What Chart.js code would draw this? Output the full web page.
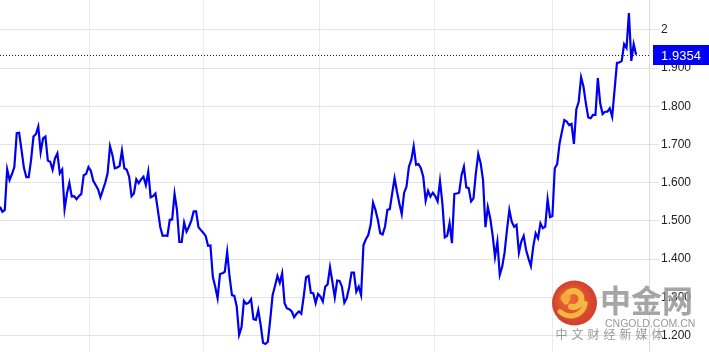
<!DOCTYPE html>
<html>
<head>
<meta charset="utf-8">
<title>1.9354</title>
<script src="https://cdn.jsdelivr.net/npm/chart.js@4.4.1/dist/chart.umd.min.js"></script>
<style>
  html, body { margin: 0; padding: 0; background: #fff; }
  #wrap { width: 709px; height: 352px; }
</style>
</head>
<body>
<div id="wrap"><canvas id="chart" width="709" height="352"></canvas></div>
<script>
// price series, one value per bar (oldest first)
const seriesValues = [
  1.537, 1.524, 1.529, 1.635, 1.607, 1.623, 1.641, 1.730, 1.731, 1.686,
  1.639, 1.615, 1.615, 1.660, 1.721, 1.727, 1.747, 1.680, 1.716, 1.721,
  1.658, 1.655, 1.634, 1.664, 1.677, 1.625, 1.635, 1.531, 1.572, 1.600,
  1.564, 1.565, 1.557, 1.565, 1.571, 1.620, 1.623, 1.641, 1.631, 1.605,
  1.594, 1.583, 1.562, 1.581, 1.600, 1.625, 1.696, 1.673, 1.638, 1.640,
  1.644, 1.684, 1.638, 1.634,
  1.616, 1.565, 1.572, 1.609, 1.599, 1.609, 1.616, 1.594, 1.629, 1.562,
  1.565, 1.572, 1.529, 1.485, 1.461, 1.462, 1.461, 1.503, 1.504, 1.571,
  1.529, 1.445, 1.445, 1.496, 1.472, 1.485, 1.501, 1.525, 1.525, 1.484,
  1.476, 1.469, 1.461, 1.435, 1.436, 1.354, 1.328, 1.298, 1.361, 1.363,
  1.367, 1.419, 1.354, 1.306, 1.304, 1.276, 1.202, 1.222, 1.291, 1.283,
  1.286, 1.295,
  1.243, 1.241, 1.267, 1.228, 1.181, 1.178, 1.184, 1.241, 1.306, 1.330,
  1.356, 1.338, 1.363, 1.285, 1.271, 1.269, 1.263, 1.248, 1.257, 1.263,
  1.257, 1.302, 1.353, 1.356, 1.312, 1.311, 1.285, 1.309, 1.302, 1.289,
  1.328, 1.334, 1.379, 1.341, 1.300, 1.344, 1.343, 1.328, 1.286, 1.298,
  1.326, 1.365, 1.365, 1.315, 1.328, 1.306, 1.437, 1.452, 1.463, 1.490,
  1.548, 1.529, 1.503, 1.468, 1.465, 1.485, 1.529, 1.531, 1.572, 1.612,
  1.577, 1.546, 1.518, 1.574, 1.590, 1.642, 1.660, 1.696, 1.647, 1.649,
  1.638, 1.616, 1.553, 1.579, 1.564, 1.574, 1.565, 1.551, 1.605, 1.546,
  1.457, 1.461, 1.494, 1.442, 1.571, 1.572, 1.574, 1.620, 1.642, 1.588,
  1.586, 1.551, 1.559, 1.625, 1.675, 1.651, 1.607, 1.484, 1.536, 1.507,
  1.463, 1.406, 1.446, 1.359,
  1.380, 1.417, 1.476, 1.529, 1.498, 1.485, 1.490, 1.417, 1.446, 1.461,
  1.424, 1.402, 1.382, 1.433, 1.468, 1.455, 1.494, 1.481, 1.485, 1.557,
  1.510, 1.513, 1.638, 1.649, 1.703, 1.734, 1.764, 1.760, 1.751, 1.754,
  1.702, 1.792, 1.812, 1.876, 1.852, 1.808, 1.771, 1.769, 1.778, 1.778,
  1.874, 1.808, 1.780, 1.786, 1.786, 1.795, 1.773, 1.843, 1.914,
  1.915, 1.919, 1.963, 1.953, 2.044, 1.919, 1.963, 1.9354
];

// value axis labels on the right
const yTicks = [1.2, 1.3, 1.4, 1.5, 1.6, 1.7, 1.8, 1.9, 2.0];
// bar positions of the vertical grid lines (period boundaries)
const xGridTicks = [37.6, 85.3, 133.4, 181.5, 230.9];

const lastValue = seriesValues[seriesValues.length - 1];
const lastLabel = '1.9354';

// watermark + last price marker
const overlayPlugin = {
  id: 'overlay',
  afterDatasetsDraw(chart) {
    const ctx = chart.ctx;
    const area = chart.chartArea;
    const y = chart.scales.y.getPixelForValue(lastValue);

    ctx.save();
    // dotted last price line
    ctx.strokeStyle = '#1010e0';
    ctx.lineWidth = 1;
    ctx.setLineDash([1, 2]);
    ctx.beginPath();
    ctx.moveTo(area.left, Math.round(y) + 0.5);
    ctx.lineTo(area.right, Math.round(y) + 0.5);
    ctx.stroke();
    ctx.setLineDash([]);

    // price tag
    ctx.fillStyle = '#0000f5';
    ctx.fillRect(area.right + 4, Math.round(y) - 10, chart.width - area.right - 4, 20);
    ctx.fillStyle = '#fff';
    ctx.font = '13px "Liberation Sans", Arial, sans-serif';
    ctx.textAlign = 'center';
    ctx.textBaseline = 'middle';
    ctx.fillText(lastLabel, (area.right + 4 + chart.width) / 2, Math.round(y) + 1);
    ctx.restore();
  },
  afterDraw(chart) {
    const ctx = chart.ctx;
    ctx.save();
    ctx.globalAlpha = 0.9;
    // logo
    const cx = 574.5, cy = 303, r = 22.5;
    const g = ctx.createRadialGradient(cx - 6, cy - 6, 3, cx, cy, r);
    g.addColorStop(0, '#ea5a1e');
    g.addColorStop(1, '#cc2a16');
    ctx.fillStyle = g;
    ctx.beginPath();
    ctx.arc(cx, cy, r, 0, Math.PI * 2);
    ctx.fill();
    ctx.strokeStyle = '#f6c244';
    ctx.lineCap = 'round';
    ctx.lineWidth = 6;
    ctx.beginPath();
    ctx.arc(cx - 1, cy - 4, 8, Math.PI * 0.9, Math.PI * 2.6);
    ctx.stroke();
    ctx.lineWidth = 5;
    ctx.beginPath();
    ctx.arc(cx - 4, cy - 2, 15, Math.PI * 0.05, Math.PI * 0.75);
    ctx.stroke();
    ctx.fillStyle = '#f2a93a';
    ctx.beginPath();
    ctx.arc(cx - 9, cy - 5, 5, 0, Math.PI * 2);
    ctx.fill();

    // brand text
    ctx.fillStyle = '#9b9b9b';
    ctx.textBaseline = 'alphabetic';
    ctx.textAlign = 'left';
    ctx.font = 'bold 31px "Noto Sans CJK SC", sans-serif';
    ctx.fillText('中金网', 600, 312);
    ctx.font = '10.5px "Liberation Sans", Arial, sans-serif';
    ctx.fillStyle = '#8e8e8e';
    ctx.fillText('CNGOLD.COM.CN', 605, 327);
    ctx.font = '12px "Noto Sans CJK SC", sans-serif';
    ctx.textAlign = 'center';
    ctx.textBaseline = 'middle';
    const sub = '中文财经新媒体';
    for (let i = 0; i < sub.length; i++) {
      ctx.fillText(sub[i], 561.5 + i * 16, 334);
    }
    ctx.restore();
  }
};

new Chart(document.getElementById('chart'), {
  type: 'line',
  data: {
    datasets: [{
      data: seriesValues.map((v, i) => ({ x: i, y: v })),
      borderColor: '#0000f0',
      borderWidth: 2.2,
      pointRadius: 0,
      tension: 0,
      fill: false
    }]
  },
  options: {
    responsive: false,
    animation: false,
    devicePixelRatio: 1,
    layout: { padding: 0 },
    plugins: {
      legend: { display: false },
      tooltip: { enabled: false }
    },
    scales: {
      x: {
        type: 'linear',
        min: 0,
        max: 271.4,
        grid: { color: '#e8ebef', lineWidth: 1, drawTicks: false },
        border: { display: false },
        ticks: { display: false },
        afterBuildTicks: (scale) => {
          scale.ticks = xGridTicks.map(v => ({ value: v }));
        },
        afterFit: (scale) => {
          scale.height = 0;
          scale.paddingLeft = 0;
          scale.paddingRight = 0;
        }
      },
      y: {
        position: 'right',
        min: 1.157,
        max: 2.0785,
        grid: { color: '#e3e3e3', lineWidth: 1, tickLength: 10 },
        border: { display: true, color: '#dcdcdc' },
        ticks: {
          padding: 2,
          color: '#222',
          font: { family: '"Liberation Sans", Arial, sans-serif', size: 12 },
          callback: (v) => v === 2 ? '2' : Number(v).toFixed(3)
        },
        afterBuildTicks: (scale) => {
          scale.ticks = yTicks.map(v => ({ value: v }));
        },
        afterFit: (scale) => {
          scale.width = 60;
          scale.paddingTop = 0;
          scale.paddingBottom = 0;
        }
      }
    }
  },
  plugins: [overlayPlugin]
});
</script>
</body>
</html>
